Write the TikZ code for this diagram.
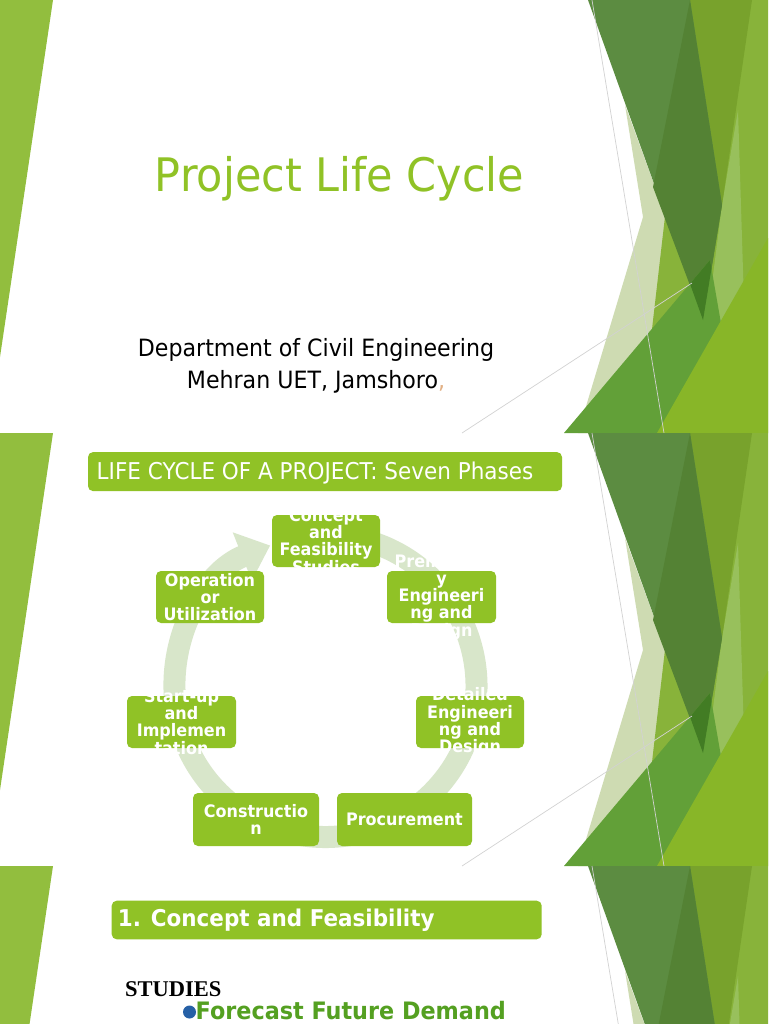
\documentclass[tikz,border=0pt]{standalone}
\usepackage{fontspec}
\setmainfont{DejaVu Sans}[FakeStretch=0.93]
\newfontfamily\studiesfont{Liberation Serif}
\usetikzlibrary{arrows.meta,positioning}

\definecolor{facet}{RGB}{144,194,38}
\definecolor{facetdark}{RGB}{84,160,33}
\definecolor{ringgreen}{RGB}{216,230,202}
\definecolor{commaorange}{RGB}{226,176,132}
\definecolor{bulletblue}{RGB}{38,96,166}
\definecolor{leftgreen}{RGB}{146,190,62}
\definecolor{palegreen}{RGB}{206,219,178}
\definecolor{lightcol}{RGB}{136,179,58}
\definecolor{palestrip}{RGB}{152,192,92}
\definecolor{olive}{RGB}{120,162,44}
\definecolor{darkband}{RGB}{92,140,65}
\definecolor{darkerband}{RGB}{84,130,52}
\definecolor{medgreen}{RGB}{98,160,56}
\definecolor{shadowgreen}{RGB}{66,124,36}
\definecolor{brightgreen}{RGB}{136,182,40}

\begin{document}
\begin{tikzpicture}[
  x=1pt, y=-1pt,
  phase/.style={fill=facet, rounded corners=5pt, inner sep=0pt},
  phasetext/.style={text=white, align=center, inner sep=0pt,
              font=\bfseries\fontsize{17.2}{17.2}\selectfont},
  bar/.style={fill=facet, rounded corners=5pt, inner sep=0pt},
  bartext/.style={text=white, anchor=base west, inner sep=0pt},
  ring/.style={draw=ringgreen, line width=22pt, -{Triangle[width=50pt,length=30pt]}},
  thinline/.style={draw=gray!35, line width=0.7pt},
]

\useasboundingbox (0,0) rectangle (768,1024);
\fill[white] (0,0) rectangle (768,1024);
\clip (0,0) rectangle (768,1024);

%% ---------- facet decoration, one per slide ----------
\foreach \s in {0,433,866}{
  \begin{scope}[shift={(0,\s)}]
    \fill[leftgreen] (0,0) -- (53,0) -- (0,357) -- cycle;
    \fill[palegreen] (625,105) -- (643,217) -- (578,433) -- (705,433)
      -- (703,320) -- (655,187) -- cycle;
    \fill[lightcol] (690,0) -- (768,0) -- (768,433) -- (640,433) -- cycle;
    \fill[palestrip] (722,205) -- (738,110) -- (745,335) -- (705,338) -- cycle;
    \fill[olive] (690,0) -- (752,0) -- (722,205) -- cycle;
    \fill[darkband] (588,0) -- (690,0) -- (722,205) -- (703,320) -- cycle;
    \fill[darkerband] (690,0) -- (722,205) -- (703,320) -- (653,187) -- cycle;
    \fill[medgreen] (564,433) -- (710,260) -- (740,433) -- cycle;
    \begin{scope}
      \clip (588,0) -- (690,0) -- (722,205) -- (703,320) -- cycle;
      \fill[shadowgreen] (564,433) -- (710,260) -- (740,433) -- cycle;
    \end{scope}
    \fill[brightgreen] (657,433) -- (768,433) -- (768,238) -- cycle;
    \draw[thinline] (592,0) -- (664,433);
    \draw[thinline] (462,433) -- (692,283);
  \end{scope}
}

%% ---------- slide 1: title ----------
\node[anchor=base, inner sep=0pt, text=facet, font=\fontsize{46.2}{50}\selectfont]
  (title) at (339.5,192) {Project Life Cycle};
\node[anchor=base, inner sep=0pt, font=\fontsize{23.8}{28}\selectfont]
  (dept) at (316,356.7) {Department of Civil Engineering};
\node[anchor=base, inner sep=0pt, font=\fontsize{23.8}{28}\selectfont]
  (uni) at (316,388.3) {Mehran UET, Jamshoro\textcolor{commaorange}{,}};

%% ---------- slide 2: seven phases ----------
\node[bar, minimum width=474pt, minimum height=39pt] (bar1) at (325,471.6) {};
\node[bartext, font=\fontsize{23.15}{28}\selectfont] (bar1-t) at (96.5,479.3)
  {LIFE CYCLE OF A PROJECT: Seven Phases};

\coordinate (hub) at (325.5,686);
\draw[ring] (hub) ++(-100:151) arc[start angle=-100, end angle=248.5, radius=151];

\node[phase, minimum width=108pt, minimum height=52pt] (conc) at (326,541) {};
\node[phase, minimum width=109pt, minimum height=52pt] (prel) at (441.5,597) {};
\node[phase, minimum width=108pt, minimum height=52pt] (det) at (470,722) {};
\node[phase, minimum width=135pt, minimum height=53pt] (proc) at (404.5,819.5) {};
\node[phase, minimum width=126pt, minimum height=53pt] (cons) at (256,819.5) {};
\node[phase, minimum width=109pt, minimum height=52pt] (start) at (181.5,722) {};
\node[phase, minimum width=108pt, minimum height=52pt] (oper) at (210,597) {};

\node[phasetext] (conc-t) at (conc) {Concept\\and\\Feasibility\\Studies};
\node[phasetext] (prel-t) at (prel) {Preliminar\\y\\Engineeri\\ng and\\Design};
\node[phasetext] (det-t) at (det) {Detailed\\Engineeri\\ng and\\Design};
\node[phasetext] (proc-t) at (proc) {Procurement};
\node[phasetext] (cons-t) at (cons) {Constructio\\n};
\node[phasetext] (start-t) at (start) {Start-up\\and\\Implemen\\tation};
\node[phasetext] (oper-t) at (oper) {Operation\\or\\Utilization};

%% ---------- slide 3: first phase ----------
\node[bar, minimum width=430pt, minimum height=38.6pt] (bar2) at (326.7,920) {};
\node[bartext, font=\bfseries\fontsize{23.1}{28}\selectfont] (bar2-t) at (117.6,926.7)
  {1. Concept and Feasibility};

\node[anchor=base west, inner sep=0pt, font=\studiesfont\bfseries\fontsize{22.5}{26}\selectfont]
  (studies) at (125,996.7) {STUDIES};
\node[circle, fill=bulletblue, minimum size=13pt, inner sep=0pt] (bul) at (189.5,1012) {};
\node[anchor=base west, inner sep=0pt, text=facetdark, font=\bfseries\fontsize{24}{28}\selectfont]
  (fcst) at (195.5,1019) {Forecast Future Demand};

\end{tikzpicture}
\end{document}
